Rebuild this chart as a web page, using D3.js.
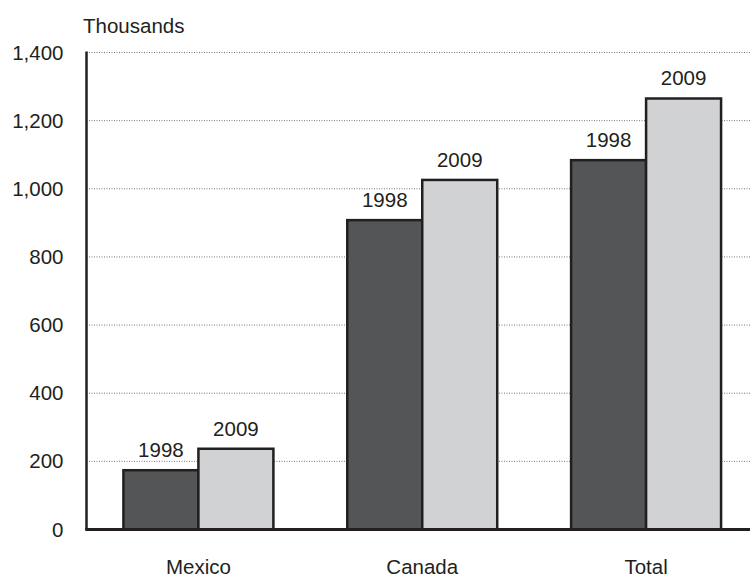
<!DOCTYPE html>
<html>
<head>
<meta charset="utf-8">
<script src="https://cdn.jsdelivr.net/npm/d3@7"></script>
<style>
  html, body { margin: 0; padding: 0; background: #fff; }
  svg { display: block; font-family: "Liberation Sans", Arial, Helvetica, sans-serif; }
</style>
</head>
<body>
<svg id="chart" width="750" height="577"></svg>
<script>
// Categories, years and values (thousands)
const categories = ["Mexico", "Canada", "Total"];
const years = ["1998", "2009"];
const values1998 = [174, 908, 1084];
const values2009 = [237, 1026, 1265];
const yTicks = [0, 200, 400, 600, 800, 1000, 1200, 1400];
const unitLabel = "Thousands";

const series = [
  { year: years[0], values: values1998, fill: "#545557" },
  { year: years[1], values: values2009, fill: "#d1d2d4" }
];

const FS = 20.5;
const INK = "#231f20";

const svg = d3.select("#chart");
const W = 750;
const axisX = 86.5, zeroY = 529.5, topY = 52.5;

const y = d3.scaleLinear().domain([0, 1400]).range([zeroY, topY]);
const x = d3.scaleBand().domain(categories).range([axisX, 758]).padding(0);
const barW = x.bandwidth() * 0.335;
const xs = d3.scaleBand().domain(years).range([-barW, barW]).padding(0);

// dotted gridlines
svg.append("g")
  .selectAll("line")
  .data(yTicks.filter(d => d > 0))
  .join("line")
  .attr("x1", axisX).attr("x2", W)
  .attr("y1", d => y(d)).attr("y2", d => y(d))
  .attr("stroke", "#777")
  .attr("stroke-width", 1)
  .attr("stroke-dasharray", "1,1.5");

// y tick labels
const yAxis = d3.axisLeft(y).tickValues(yTicks).tickSize(0).tickPadding(23)
  .tickFormat(d3.format(","));
const gy = svg.append("g").attr("transform", `translate(${axisX},0)`).call(yAxis);
gy.select(".domain").remove();
gy.selectAll("text")
  .attr("font-size", FS)
  .attr("fill", INK)
  .attr("font-family", "Liberation Sans, Arial, sans-serif");

// unit label
svg.append("text")
  .attr("x", 83).attr("y", 33)
  .attr("font-size", FS)
  .attr("fill", INK)
  .text(unitLabel);

// bars
const groups = svg.append("g").selectAll("g")
  .data(series)
  .join("g");

groups.selectAll("rect")
  .data(s => s.values.map((v, i) => ({ cat: categories[i], v, year: s.year, fill: s.fill })))
  .join("rect")
  .attr("x", d => x(d.cat) + x.bandwidth() / 2 + xs(d.year))
  .attr("y", d => y(d.v))
  .attr("width", xs.bandwidth())
  .attr("height", d => zeroY - y(d.v))
  .attr("fill", d => d.fill)
  .attr("stroke", INK)
  .attr("stroke-width", 2.5);

// year labels above bars
groups.selectAll("text")
  .data(s => s.values.map((v, i) => ({ cat: categories[i], v, year: s.year })))
  .join("text")
  .attr("x", d => x(d.cat) + x.bandwidth() / 2 + xs(d.year) + xs.bandwidth() / 2)
  .attr("y", d => y(d.v) - 13)
  .attr("text-anchor", "middle")
  .attr("font-size", FS)
  .attr("fill", INK)
  .text(d => d.year);

// y axis line
svg.append("line")
  .attr("x1", axisX).attr("x2", axisX)
  .attr("y1", topY - 1).attr("y2", zeroY)
  .attr("stroke", INK).attr("stroke-width", 2.5);

// baseline
svg.append("line")
  .attr("x1", axisX - 1.25).attr("x2", W)
  .attr("y1", zeroY).attr("y2", zeroY)
  .attr("stroke", INK).attr("stroke-width", 3);

// category labels
const xAxis = d3.axisBottom(x).tickSize(0).tickPadding(30);
const gx = svg.append("g").attr("transform", `translate(0,${zeroY})`).call(xAxis);
gx.select(".domain").remove();
gx.selectAll("text")
  .attr("font-size", FS)
  .attr("fill", INK)
  .attr("font-family", "Liberation Sans, Arial, sans-serif");
</script>
</body>
</html>
